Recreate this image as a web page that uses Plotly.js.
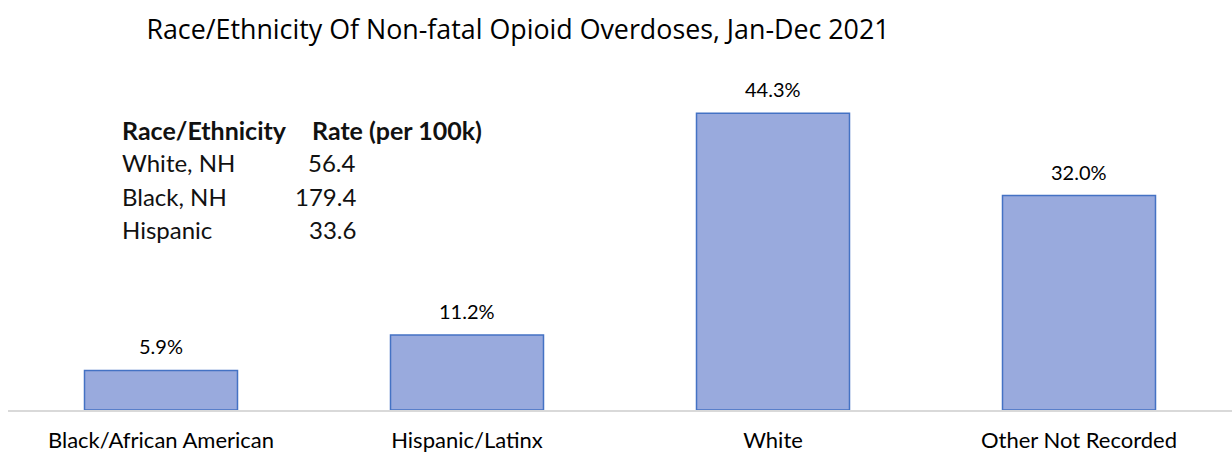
<!DOCTYPE html>
<html>
<head>
<meta charset="utf-8">
<script src="https://cdn.plot.ly/plotly-3.0.1.min.js"></script>
<style>html,body{margin:0;padding:0;background:#fff;}#chart{width:1232px;height:454px;}</style>
</head>
<body>
<div id="chart"></div>
<script>
// ---- Data ----
const categories = ["Black/African American", "Hispanic/Latinx", "White", "Other Not Recorded"];
const percentValues = [5.9, 11.2, 44.3, 32.0];
const tableHeader = ["Race/Ethnicity", "Rate (per 100k)"];
const tableGroups = ["White, NH", "Black, NH", "Hispanic"];
const tableRates = ["56.4", "179.4", "33.6"];
const chartTitle = "Race/Ethnicity Of Non-fatal Opioid Overdoses, Jan-Dec 2021";

// ---- Layout helpers ----
const W = 1232, H = 454;
const M = {l: 8, r: 0, t: 75, b: 44};
const PW = W - M.l - M.r, PH = H - M.t - M.b;
const px = x => (x - M.l) / PW;
const py = y => (H - M.b - y) / PH;
const bodyFont = "Lato, 'Noto Sans', 'DejaVu Sans', sans-serif";

const annotations = [];
// value labels
categories.forEach((c, i) => {
  annotations.push({
    x: c, y: percentValues[i], xref: 'x', yref: 'y',
    text: percentValues[i].toFixed(1) + '%',
    showarrow: false, xanchor: 'center', yanchor: 'bottom', yshift: 10,
    font: {family: bodyFont, size: 20, color: '#000000'}
  });
});
// inset table
const rowY = [130, 162, 196, 229];
const tfont = {family: bodyFont, size: 24, color: '#111111'};
const hfont = {family: bodyFont, size: 25, color: '#111111'};
annotations.push({x: px(120), y: py(rowY[0]), xref: 'paper', yref: 'paper', text: '<b>' + tableHeader[0] + '</b>',
  showarrow: false, xanchor: 'left', yanchor: 'middle', font: hfont});
annotations.push({x: px(310), y: py(rowY[0]), xref: 'paper', yref: 'paper', text: '<b>' + tableHeader[1] + '</b>',
  showarrow: false, xanchor: 'left', yanchor: 'middle', font: hfont});
tableGroups.forEach((g, i) => {
  annotations.push({x: px(120), y: py(rowY[i + 1]), xref: 'paper', yref: 'paper', text: g,
    showarrow: false, xanchor: 'left', yanchor: 'middle', font: tfont});
  annotations.push({x: px(358), y: py(rowY[i + 1]), xref: 'paper', yref: 'paper', text: tableRates[i],
    showarrow: false, xanchor: 'right', yanchor: 'middle', font: tfont});
});

const trace = {
  type: 'bar',
  x: categories,
  y: percentValues,
  width: 0.5,
  marker: {color: '#99AADD', line: {color: '#4472C4', width: 1.5}},
  hoverinfo: 'x+y',
  showlegend: false
};

const layout = {
  width: W, height: H,
  margin: M,
  paper_bgcolor: '#ffffff', plot_bgcolor: '#ffffff',
  title: {text: chartTitle, x: 518 / W, xref: 'container', xanchor: 'center', y: 1 - 30 / H, yref: 'container', yanchor: 'middle',
    font: {family: "'Open Sans', 'Noto Sans', sans-serif", size: 26.8, color: '#000000'}},
  xaxis: {type: 'category', showline: true, linecolor: '#D9D9D9', linewidth: 2, ticks: '', showgrid: false,
    zeroline: false, tickfont: {family: bodyFont, size: 22, color: '#000000'}, ticklabelstandoff: 10},
  yaxis: {range: [0, 50], visible: false, showgrid: false, zeroline: false},
  annotations: annotations,
  bargap: 0.5
};

Plotly.newPlot('chart', [trace], layout, {displayModeBar: false, staticPlot: true});
</script>
</body>
</html>
